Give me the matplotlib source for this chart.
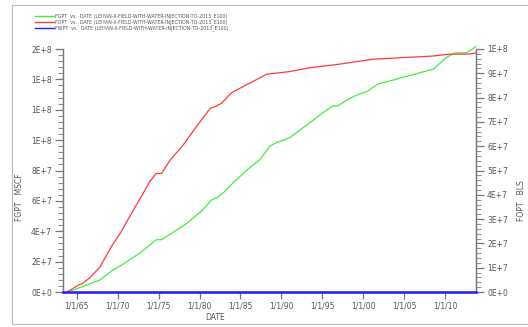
import matplotlib
matplotlib.use('Agg')
import matplotlib.pyplot as plt
from matplotlib.lines import Line2D
from matplotlib.ticker import AutoMinorLocator, FuncFormatter

# data (dates as decimal years)
fgpt_dates = [1963.9, 1964.8, 1966.2, 1967.8, 1969.4, 1970.3, 1972.7, 1974.7, 1975.35,
              1976.6, 1978.4, 1980.4, 1981.5, 1982.1, 1982.9, 1984.1, 1986.1, 1987.4,
              1988.6, 1989.4, 1991.0, 1993.5, 1995.1, 1996.3, 1996.9, 1998.2, 1999.2,
              2000.6, 2001.8, 2004.1, 2008.6, 2010.2, 2011.2, 2012.6, 2013.4, 2013.8]
fgpt = [0, 1.8e6, 4.6e6, 7.9e6, 14.5e6, 17.2e6, 25.6e6, 34.4e6, 34.4e6,
        38.8e6, 45.0e6, 54.2e6, 60.8e6, 62.0e6, 65.3e6, 71.9e6, 81.8e6, 87.3e6,
        96.1e6, 98.3e6, 101.6e6, 111.5e6, 118.2e6, 122.5e6, 122.5e6, 127.0e6, 129.6e6,
        132.4e6, 136.9e6, 140.2e6, 146.8e6, 154.5e6, 157.4e6, 157.4e6, 160.0e6, 161.8e6]

fopt_dates = [1963.8, 1965.2, 1965.6, 1966.6, 1967.8, 1969.2, 1970.3, 1971.9, 1973.1,
              1973.9, 1974.7, 1975.35, 1976.4, 1978.0, 1979.6, 1981.3, 1981.9, 1982.7,
              1983.9, 1986.1, 1988.2, 1991.0, 1993.5, 1997.2, 2001.2, 2008.5, 2010.6,
              2013.0, 2013.8]
fopt = [0, 2.9e6, 3.3e6, 5.9e6, 10.2e6, 18.6e6, 24.2e6, 33.7e6, 40.6e6,
        45.4e6, 48.8e6, 48.8e6, 54.3e6, 60.5e6, 68.0e6, 75.6e6, 76.3e6, 77.7e6,
        82.0e6, 85.9e6, 89.6e6, 90.7e6, 92.3e6, 93.8e6, 95.8e6, 97.1e6, 97.9e6,
        97.9e6, 98.4e6]

fwpt_dates = [1963.3, 2013.8]
fwpt = [0, 0]

year_ticks = [1965, 1970, 1975, 1980, 1985, 1990, 1995, 2000, 2005, 2010]
year_labels = ['1/1/65', '1/1/70', '1/1/75', '1/1/80', '1/1/85',
               '1/1/90', '1/1/95', '1/1/00', '1/1/05', '1/1/10']

legend_texts = [
    'FGPT  vs.  DATE (LEIYAN-X-FIELD-WITH-WATER-INJECTION-TO-2013_E100)',
    'FOPT  vs.  DATE (LEIYAN-X-FIELD-WITH-WATER-INJECTION-TO-2013_E100)',
    'FWPT  vs.  DATE (LEIYAN-X-FIELD-WITH-WATER-INJECTION-TO-2013_E100)',
]

GREEN = '#3cf03c'
RED = '#ff3a3a'
BLUE = '#2020ff'
GRAY = '#777777'
TXT = '#555555'


def sci(v, pos=None):
    s = f'{v:.0E}'
    mant, exp = s.split('E')
    return f'{mant}E{exp[0]}{int(exp[1:])}'


def main():
    W, H = 528, 327
    fig = plt.figure(figsize=(W / 100, H / 100), dpi=100)
    fig.patch.set_facecolor('white')

    # outer frame
    fx = lambda px: px / W
    fy = lambda py: 1 - py / H
    for xs, ys in [((12, 528), (5, 5)), ((12, 12), (5, 324)), ((12, 528), (324, 324))]:
        fig.add_artist(Line2D([fx(xs[0]), fx(xs[1])], [fy(ys[0]), fy(ys[1])],
                              color='#bbbbbb', lw=0.8))

    ax = fig.add_axes([fx(63), fy(292), fx(476) - fx(63), fy(49) - fy(292)])
    ax2 = ax.twinx()

    ax.plot(fgpt_dates, fgpt, color=GREEN, lw=0.9, clip_on=False, zorder=3)
    ax2.plot(fopt_dates, fopt, color=RED, lw=0.9, clip_on=False, zorder=3)
    ax2.plot(fwpt_dates, fwpt, color=BLUE, lw=1.8, clip_on=False, zorder=4)

    ax.set_xlim(1963.3, 2013.8)
    ax.set_ylim(0, 1.6e8)
    ax2.set_ylim(0, 1e8)

    ax.set_xticks(year_ticks)
    ax.set_xticklabels(year_labels)
    ax.set_yticks([i * 2e7 for i in range(9)])
    ax.yaxis.set_major_formatter(FuncFormatter(sci))
    ax.yaxis.set_minor_locator(AutoMinorLocator(5))
    ax2.set_yticks([i * 1e7 for i in range(11)])
    ax2.yaxis.set_major_formatter(FuncFormatter(sci))
    ax2.yaxis.set_minor_locator(AutoMinorLocator(5))

    for a in (ax, ax2):
        a.spines['top'].set_visible(False)
        for s in a.spines.values():
            s.set_color(GRAY)
            s.set_linewidth(0.9)
        a.tick_params(which='major', length=6, width=0.9, color=GRAY,
                      labelsize=5.5, labelcolor=TXT, pad=2)
        a.tick_params(which='minor', length=3.5, width=0.6, color=GRAY)
    ax.tick_params(axis='x', length=5)

    fig.text(fx(215), fy(318), 'DATE', fontsize=5.5, color=TXT, ha='center', va='center')
    fig.text(fx(20), fy(197), 'FGPT   MSCF', fontsize=5.5, color=TXT,
             rotation=90, ha='center', va='center')
    fig.text(fx(521), fy(201), 'FOPT   BLS', fontsize=5.5, color=TXT,
             rotation=90, ha='center', va='center')

    # legend block
    for i, (txt, col) in enumerate(zip(legend_texts, [GREEN, RED, BLUE])):
        y = 16 + i * 6
        fig.add_artist(Line2D([fx(35), fx(54)], [fy(y), fy(y)], color=col, lw=1.0))
        fig.text(fx(55), fy(y), txt, fontsize=3.4, color=TXT, va='center', ha='left')

    fig.savefig('out.png', dpi=100)


if __name__ == '__main__':
    main()
